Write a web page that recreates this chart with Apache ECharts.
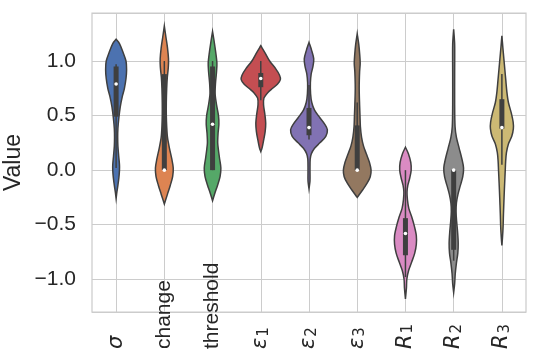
<html>
<head>
    <script src="https://cdn.jsdelivr.net/npm/echarts@6/dist/echarts.min.js"></script>
    <style>
        html, body { margin: 0; padding: 0; background: #fff; }
        #violin { width: 538px; height: 358px; }
    </style>
</head>
<body>
    <div id="violin"></div>
    <script>
        // categories along x
        var categories = ['sigma', 'change', 'threshold', 'eps1', 'eps2', 'eps3', 'R1', 'R2', 'R3'];
        var colors = ['#4C72B0', '#DD8452', '#55A868', '#C44E52', '#8172B3', '#937860', '#DA8BC3', '#8C8C8C', '#CCB974'];

        // violin outlines: [value, density as % of the widest violin]
        var sigmaShape = [[1.20, 0], [1.16, 17], [1.08, 35], [1.00, 50], [0.92, 53], [0.84, 50], [0.75, 42], [0.68, 32], [0.58, 21], [0.48, 14], [0.38, 9], [0.30, 8], [0.22, 9], [0.13, 13], [0.05, 17], [0.00, 17], [-0.07, 14], [-0.14, 9], [-0.20, 4], [-0.26, 0]];
        var changeShape = [[1.32, 0], [1.22, 8], [1.12, 16], [1.02, 21], [0.94, 20], [0.85, 15], [0.75, 12], [0.62, 10], [0.50, 10], [0.40, 12], [0.30, 16], [0.20, 26], [0.10, 38], [0.02, 45], [-0.06, 42], [-0.14, 30], [-0.22, 16], [-0.31, 0]];
        var thresholdShape = [[1.27, 0], [1.18, 8], [1.08, 16], [0.98, 22], [0.90, 20], [0.80, 15], [0.70, 13], [0.60, 20], [0.50, 30], [0.42, 32], [0.34, 28], [0.25, 26], [0.18, 30], [0.10, 36], [0.02, 42], [-0.06, 38], [-0.14, 25], [-0.21, 12], [-0.28, 0]];
        var eps1Shape = [[1.14, 0], [1.08, 20], [1.00, 45], [0.93, 75], [0.87, 95], [0.83, 99], [0.79, 85], [0.75, 60], [0.71, 35], [0.66, 16], [0.60, 14], [0.52, 20], [0.43, 25], [0.35, 22], [0.27, 14], [0.20, 6], [0.17, 0]];
        var eps2Shape = [[1.17, 0], [1.10, 13], [1.02, 24], [0.95, 20], [0.88, 11], [0.80, 7], [0.70, 8], [0.62, 14], [0.55, 28], [0.48, 55], [0.42, 80], [0.37, 93], [0.31, 85], [0.25, 55], [0.20, 28], [0.15, 12], [0.10, 6], [0.00, 5], [-0.10, 5], [-0.17, 0]];
        var eps3Shape = [[1.25, 0], [1.15, 8], [1.05, 13], [0.98, 15], [0.90, 12], [0.75, 10], [0.60, 12], [0.50, 14], [0.40, 16], [0.30, 22], [0.22, 32], [0.14, 48], [0.07, 62], [0.00, 70], [-0.06, 66], [-0.12, 50], [-0.18, 28], [-0.25, 0]];
        var r1Shape = [[0.21, 0], [0.15, 15], [0.07, 27], [0.00, 29], [-0.07, 22], [-0.14, 12], [-0.20, 8], [-0.27, 10], [-0.35, 17], [-0.43, 32], [-0.52, 46], [-0.60, 55], [-0.68, 55], [-0.76, 47], [-0.84, 32], [-0.92, 16], [-1.00, 7], [-1.08, 5], [-1.18, 0]];
        var r2Shape = [[1.29, 0], [1.15, 5], [0.90, 5], [0.60, 5], [0.40, 7], [0.30, 14], [0.20, 28], [0.10, 42], [0.02, 50], [-0.06, 46], [-0.14, 34], [-0.22, 22], [-0.30, 14], [-0.38, 12], [-0.47, 15], [-0.57, 20], [-0.67, 23], [-0.76, 21], [-0.85, 14], [-0.95, 8], [-1.04, 5], [-1.12, 0]];
        var r3Shape = [[1.23, 0], [1.12, 5], [1.02, 10], [0.92, 15], [0.82, 20], [0.72, 25], [0.62, 33], [0.52, 48], [0.44, 57], [0.38, 58], [0.31, 50], [0.24, 33], [0.16, 23], [0.08, 19], [0.00, 17], [-0.12, 14], [-0.25, 11], [-0.40, 8], [-0.52, 6], [-0.62, 3], [-0.69, 0]];
        var shapes = [sigmaShape, changeShape, thresholdShape, eps1Shape, eps2Shape, eps3Shape, r1Shape, r2Shape, r3Shape];

        // inner box stats
        var q1 = [0.49, 0.00, 0.00, 0.76, 0.32, 0.00, -0.78, -0.73, 0.38];
        var medians = [0.79, 0.00, 0.42, 0.84, 0.39, 0.00, -0.58, 0.00, 0.39];
        var q3 = [0.95, 0.88, 0.95, 0.89, 0.57, 0.41, -0.44, 0.00, 0.65];
        var whiskerLow = [0.02, 0.00, 0.00, 0.64, 0.28, 0.00, -0.98, -0.83, 0.05];
        var whiskerHigh = [0.97, 1.00, 1.00, 1.00, 0.78, 0.62, 0.00, 0.00, 0.88];

        var labelText = {
            sigma: '{it|σ}',
            change: 'change',
            threshold: 'threshold',
            eps1: '{it|ε}{sub|1}',
            eps2: '{it|ε}{sub|2}',
            eps3: '{it|ε}{sub|3}',
            R1: '{it|R}{sub|1}',
            R2: '{it|R}{sub|2}',
            R3: '{it|R}{sub|3}'
        };

        var edge = '#3f3f3f';

        function renderViolin(params, api) {
            var i = api.value(0);
            var cx = api.coord([i, 0])[0];
            var band = api.size([1, 0])[0];
            var shape = shapes[i];
            var right = [], left = [];
            shape.forEach(function (p) {
                var y = api.coord([i, p[0]])[1];
                var hw = p[1] / 100 * band * 0.41;
                right.push([cx + hw, y]);
                left.unshift([cx - hw, y]);
            });
            var yq1 = api.coord([i, q1[i]])[1];
            var yq3 = api.coord([i, q3[i]])[1];
            var ym = api.coord([i, medians[i]])[1];
            var ylo = api.coord([i, whiskerLow[i]])[1];
            var yhi = api.coord([i, whiskerHigh[i]])[1];
            return {
                type: 'group',
                children: [
                    {
                        type: 'polygon',
                        shape: { points: right.concat(left), smooth: 0.3 },
                        style: { fill: colors[i], stroke: edge, lineWidth: 1.5 }
                    },
                    {
                        type: 'line',
                        shape: { x1: cx, y1: yhi, x2: cx, y2: ylo },
                        style: { stroke: edge, lineWidth: 1.5 }
                    },
                    {
                        type: 'rect',
                        shape: { x: cx - 2.5, y: yq3, width: 5, height: Math.max(yq1 - yq3, 1) },
                        style: { fill: edge }
                    },
                    {
                        type: 'circle',
                        shape: { cx: cx, cy: ym, r: 1.8 },
                        style: { fill: '#fff' }
                    }
                ]
            };
        }

        var myChart = echarts.init(document.getElementById('violin'));
        var option = {
            animation: false,
            grid: {
                left: 92,
                right: 12,
                top: 13,
                bottom: 46,
                outerBoundsMode: 'none',
                containLabel: false,
                show: true,
                borderColor: '#cccccc',
                borderWidth: 1.25,
                backgroundColor: '#fff'
            },
            xAxis: {
                type: 'category',
                data: categories,
                axisLine: { show: false },
                axisTick: { show: false },
                splitLine: { show: true, alignWithLabel: true, lineStyle: { color: '#cccccc', width: 1 } },
                axisLabel: {
                    rotate: 90,
                    align: 'left',
                    verticalAlign: 'middle',
                    margin: 37,
                    interval: 0,
                    color: '#262626',
                    fontFamily: 'Liberation Sans',
                    fontSize: 21,
                    formatter: function (v) { return labelText[v]; },
                    rich: {
                        it: { fontFamily: 'DejaVu Sans', fontStyle: 'italic', fontSize: 21, color: '#262626' },
                        sub: { fontFamily: 'DejaVu Sans', fontSize: 15, color: '#262626', verticalAlign: 'bottom', padding: [0, 0, 0, 1] }
                    }
                }
            },
            yAxis: {
                type: 'value',
                min: -1.3,
                max: 1.44,
                splitNumber: 5,
                name: 'Value',
                nameLocation: 'middle',
                nameGap: 67,
                nameMoveOverlap: false,
                nameTextStyle: { color: '#262626', fontSize: 23, fontFamily: 'Liberation Sans' },
                axisLine: { show: false },
                axisTick: { show: false },
                splitLine: { lineStyle: { color: '#cccccc', width: 1 } },
                axisLabel: {
                    showMinLabel: false,
                    showMaxLabel: false,
                    margin: 16,
                    color: '#262626',
                    fontFamily: 'Liberation Sans',
                    fontSize: 21,
                    formatter: function (v) { return v.toFixed(1).replace('-', '\u2212'); }
                }
            },
            series: [{
                type: 'custom',
                renderItem: renderViolin,
                data: categories.map(function (c, i) { return [i]; }),
                encode: { x: 0 },
                clip: true
            }]
        };
        myChart.setOption(option);
        window.onresize = myChart.resize;
    </script>
</body>
</html>
